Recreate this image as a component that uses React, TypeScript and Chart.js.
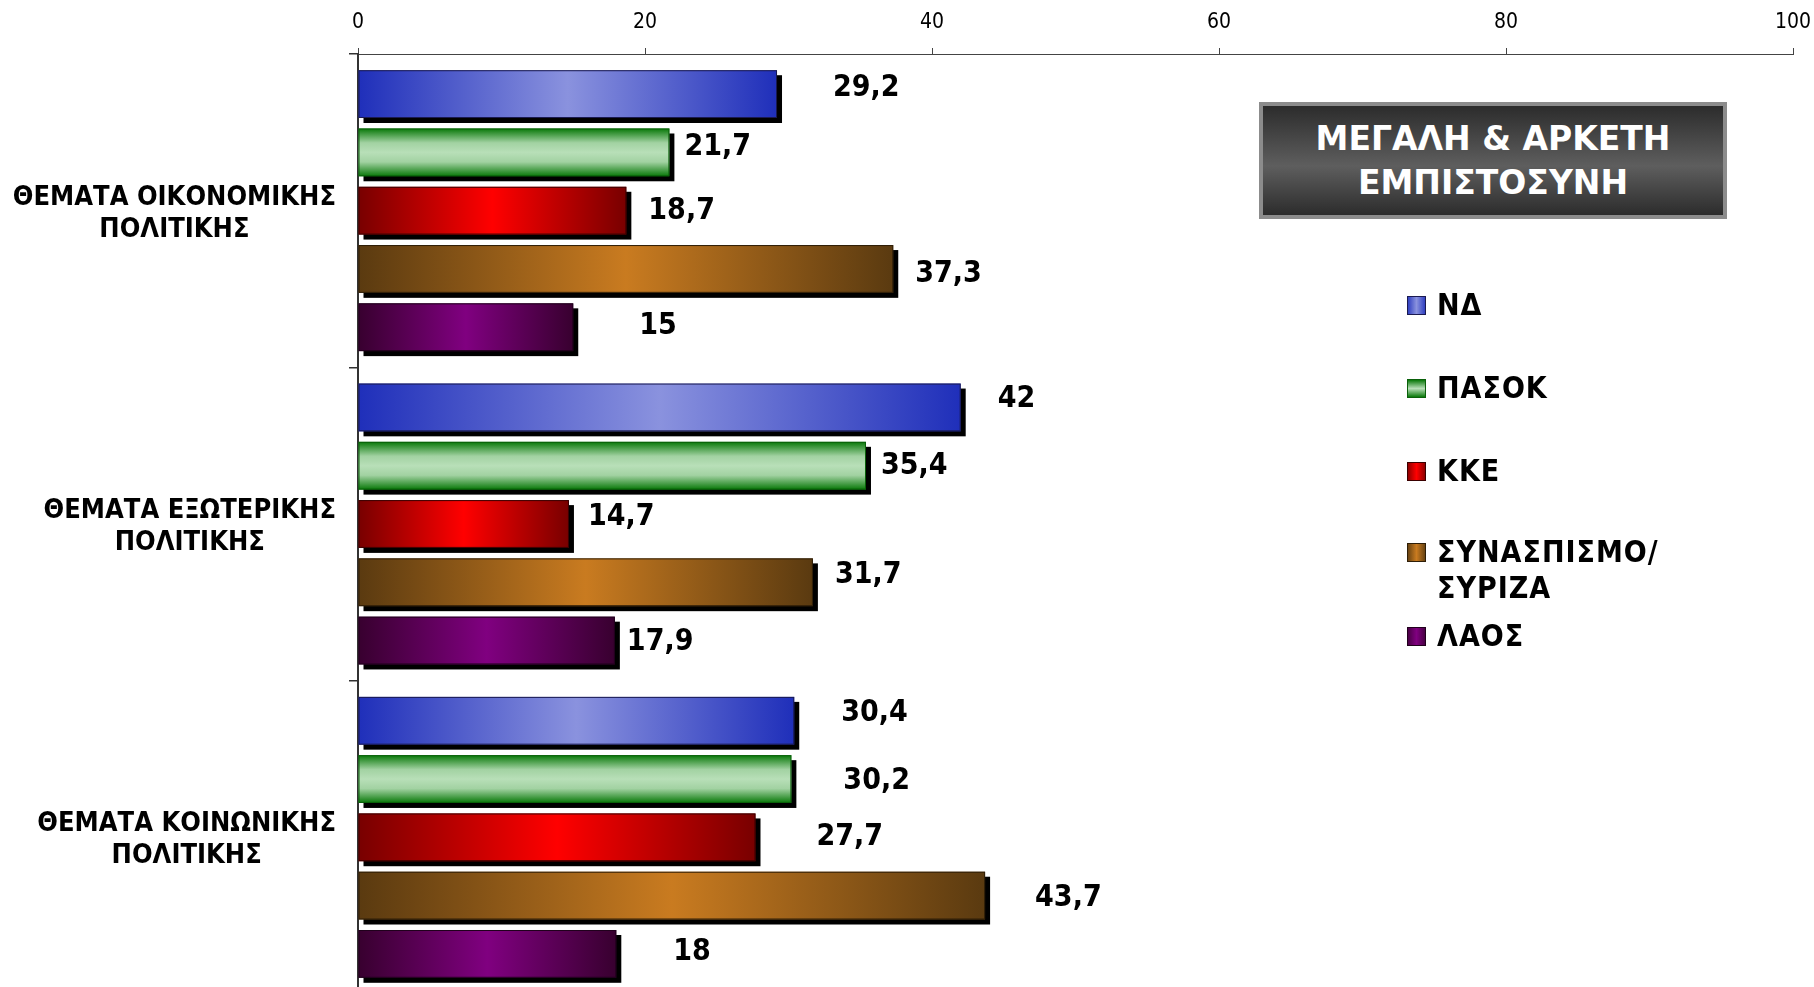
import React, { useEffect, useRef } from "react";
import { Chart, registerables } from "chart.js";

Chart.register(...registerables);

// ---- data ----
const categories: string[][] = [
  ["ΘΕΜΑΤΑ ΟΙΚΟΝΟΜΙΚΗΣ", "ΠΟΛΙΤΙΚΗΣ"],
  ["ΘΕΜΑΤΑ ΕΞΩΤΕΡΙΚΗΣ", "ΠΟΛΙΤΙΚΗΣ"],
  ["ΘΕΜΑΤΑ ΚΟΙΝΩΝΙΚΗΣ", "ΠΟΛΙΤΙΚΗΣ"],
];
const seriesNames: string[][] = [["ΝΔ"], ["ΠΑΣΟΚ"], ["ΚΚΕ"], ["ΣΥΝΑΣΠΙΣΜΟ/", "ΣΥΡΙΖΑ"], ["ΛΑΟΣ"]];
const nd = [29.2, 42, 30.4];
const pasok = [21.7, 35.4, 30.2];
const kke = [18.7, 14.7, 27.7];
const syn = [37.3, 31.7, 43.7];
const laos = [15, 17.9, 18];
const xMin = 0;
const xMax = 100;
const xStep = 20;
const chartTitle = ["ΜΕΓΑΛΗ & ΑΡΚΕΤΗ", "ΕΜΠΙΣΤΟΣΥΝΗ"];

// ---- styling (not data) ----
const FONT_C = '"DejaVu Sans Condensed", "DejaVu Sans", sans-serif';
const FONT = '"DejaVu Sans", sans-serif';

type BarStyle = { vertical: boolean; stops: [number, string][]; border: string; legend: string };
const barStyles: BarStyle[] = [
  { vertical: false, stops: [[0, "#1f2fba"], [0.5, "#8a92de"], [1, "#1f2fba"]], border: "#1a1a50", legend: "linear-gradient(to right,#3040c0,#8a92de,#3040c0)" },
  { vertical: true, stops: [[0, "#087808"], [0.3, "#a2d2a2"], [0.5, "#b8dfb8"], [0.7, "#a2d2a2"], [1, "#087808"]], border: "#0a600a", legend: "linear-gradient(to bottom,#087808,#b8dfb8,#087808)" },
  { vertical: false, stops: [[0, "#780000"], [0.5, "#ff0000"], [1, "#780000"]], border: "#3a0000", legend: "linear-gradient(to right,#900000,#ff0000,#900000)" },
  { vertical: false, stops: [[0, "#5a3a10"], [0.5, "#c97b20"], [1, "#5a3a10"]], border: "#2e1e08", legend: "linear-gradient(to right,#6a4412,#c97b20,#6a4412)" },
  { vertical: false, stops: [[0, "#38002f"], [0.5, "#800080"], [1, "#38002f"]], border: "#20001c", legend: "linear-gradient(to right,#4a0045,#800080,#4a0045)" },
];
// label placement nudges relative to bar end (px) per series per category
const labelDx = [[56, 37, 47], [15, 15, 52], [22, 19, 61], [22, 22, 50], [66, 12, 57]];
const labelDy = [[-6, -8, -8], [-5, 0, 2], [1, -7, 0], [5, -7, 3], [-1, 2, -2]];
const legendCenters = [305, 388, 471, 552, 636];
const CAT_FONT = `bold 27px ${FONT_C}`;
const CAT_LINE = 32;
const CAT_RIGHT_GAP = 22; // gap between label block and y axis

const barPlugin = {
  id: "fancyBars",
  afterDatasetsDraw(chart: any) {
    const ctx: CanvasRenderingContext2D = chart.ctx;
    const metas = chart.data.datasets.map((_: any, di: number) => chart.getDatasetMeta(di));
    // shadows
    metas.forEach((meta: any) => {
      meta.data.forEach((el: any) => {
        const { x, y, base, height } = el.getProps(["x", "y", "base", "height"], true);
        const left = Math.min(x, base);
        const w = Math.abs(x - base);
        ctx.save();
        ctx.fillStyle = "#000";
        ctx.fillRect(left + 5, y - height / 2 + 5, w, height);
        ctx.restore();
      });
    });
    // bars
    metas.forEach((meta: any, di: number) => {
      const st = barStyles[di];
      meta.data.forEach((el: any) => {
        const { x, y, base, height } = el.getProps(["x", "y", "base", "height"], true);
        const left = Math.min(x, base);
        const right = Math.max(x, base);
        const top = y - height / 2;
        const bottom = y + height / 2;
        const g = st.vertical
          ? ctx.createLinearGradient(0, top, 0, bottom)
          : ctx.createLinearGradient(left, 0, right, 0);
        st.stops.forEach(([o, c]) => g.addColorStop(o, c));
        ctx.save();
        ctx.fillStyle = g;
        ctx.fillRect(left, top, right - left, bottom - top);
        ctx.strokeStyle = st.border;
        ctx.lineWidth = 1;
        ctx.strokeRect(left + 0.5, top + 0.5, right - left - 1, bottom - top - 1);
        ctx.restore();
      });
    });
    // value labels
    ctx.save();
    ctx.font = `bold 30px ${FONT_C}`;
    ctx.fillStyle = "#000";
    ctx.textAlign = "left";
    ctx.textBaseline = "middle";
    metas.forEach((meta: any, di: number) => {
      const ds = chart.data.datasets[di];
      meta.data.forEach((el: any, i: number) => {
        const { x, y } = el.getProps(["x", "y"], true);
        const txt = String(ds.data[i]).replace(".", ",");
        ctx.fillText(txt, x + labelDx[di][i], y + labelDy[di][i]);
      });
    });
    ctx.restore();
  },
  afterDraw(chart: any) {
    // category labels: each block right-aligned to the axis, lines centred inside the block
    const ctx: CanvasRenderingContext2D = chart.ctx;
    const yScale = chart.scales.y;
    ctx.save();
    ctx.font = CAT_FONT;
    ctx.fillStyle = "#000";
    ctx.textAlign = "center";
    ctx.textBaseline = "middle";
    (chart.data.labels as string[][]).forEach((lines, i) => {
      const cy = yScale.getPixelForValue(i);
      const widest = Math.max(...lines.map((l) => ctx.measureText(l).width));
      const cx = yScale.right - CAT_RIGHT_GAP - widest / 2;
      const y0 = cy - ((lines.length - 1) * CAT_LINE) / 2 + 3;
      lines.forEach((l, k) => ctx.fillText(l, cx, y0 + k * CAT_LINE));
    });
    ctx.restore();
  },
};

export default function App() {
  const ref = useRef<HTMLCanvasElement | null>(null);

  useEffect(() => {
    if (!ref.current) return;
    const values = [nd, pasok, kke, syn, laos];
    const chart = new Chart(ref.current, {
      type: "bar",
      data: {
        labels: categories as any,
        datasets: values.map((v, i) => ({
          label: seriesNames[i].join(" "),
          data: v,
          backgroundColor: "rgba(0,0,0,0)",
          borderWidth: 0,
        })),
      },
      options: {
        indexAxis: "y",
        responsive: false,
        animation: false,
        layout: { padding: { left: 0, right: 21, top: 0, bottom: 0 } },
        datasets: { bar: { categoryPercentage: 0.93, barPercentage: 0.82 } },
        plugins: {
          legend: { display: false },
          tooltip: { enabled: false },
          title: { display: false },
        },
        scales: {
          x: {
            position: "top",
            min: xMin,
            max: xMax,
            ticks: { stepSize: xStep, color: "#000", padding: 13, font: { family: FONT_C, size: 21 } },
            grid: { drawOnChartArea: false, tickLength: 6, color: "#444", lineWidth: 1 },
            border: { color: "#444", width: 1 },
            afterFit: (s: any) => { s.height = 54; s.paddingLeft = 0; s.paddingRight = 0; },
          },
          y: {
            ticks: { display: false },
            grid: { offset: true, drawOnChartArea: false, tickLength: 9, color: "#333", lineWidth: 1.5 },
            border: { color: "#333", width: 2 },
            afterFit: (s: any) => { s.width = 358; s.paddingTop = 0; s.paddingBottom = 0; },
          },
        },
      } as any,
      plugins: [barPlugin],
    });
    return () => chart.destroy();
  }, []);

  return (
    <div style={{ position: "absolute", left: 0, top: 0, width: 1814, height: 987, overflow: "hidden", background: "#fff" }}>
      <canvas ref={ref} width={1814} height={994} style={{ width: 1814, height: 994, display: "block" }} />
      <div
        style={{
          position: "absolute",
          left: 1259,
          top: 102,
          width: 468,
          height: 117,
          boxSizing: "border-box",
          border: "4px solid #8c8c8c",
          background: "linear-gradient(to bottom,#2c2c2c 0%,#5e5e5e 55%,#2c2c2c 100%)",
          color: "#fff",
          fontFamily: FONT,
          fontWeight: "bold",
          fontSize: 33,
          lineHeight: "44px",
          textAlign: "center",
          display: "flex",
          flexDirection: "column",
          justifyContent: "center",
        }}
      >
        {chartTitle.map((t) => (
          <div key={t}>{t}</div>
        ))}
      </div>
      {seriesNames.map((name, i) => (
        <div key={i}>
          <div
            style={{
              position: "absolute",
              left: 1407,
              top: legendCenters[i] - 9.5,
              width: 19,
              height: 19,
              boxSizing: "border-box",
              border: `1.5px solid ${barStyles[i].border}`,
              background: barStyles[i].legend,
            }}
          />
          <div
            style={{
              position: "absolute",
              left: 1437,
              top: legendCenters[i] - 18,
              fontFamily: FONT_C,
              fontWeight: "bold",
              fontSize: 30,
              lineHeight: "36px",
              color: "#000",
              whiteSpace: "nowrap",
              letterSpacing: 1,
            }}
          >
            {name.map((n) => (
              <div key={n}>{n}</div>
            ))}
          </div>
        </div>
      ))}
    </div>
  );
}
